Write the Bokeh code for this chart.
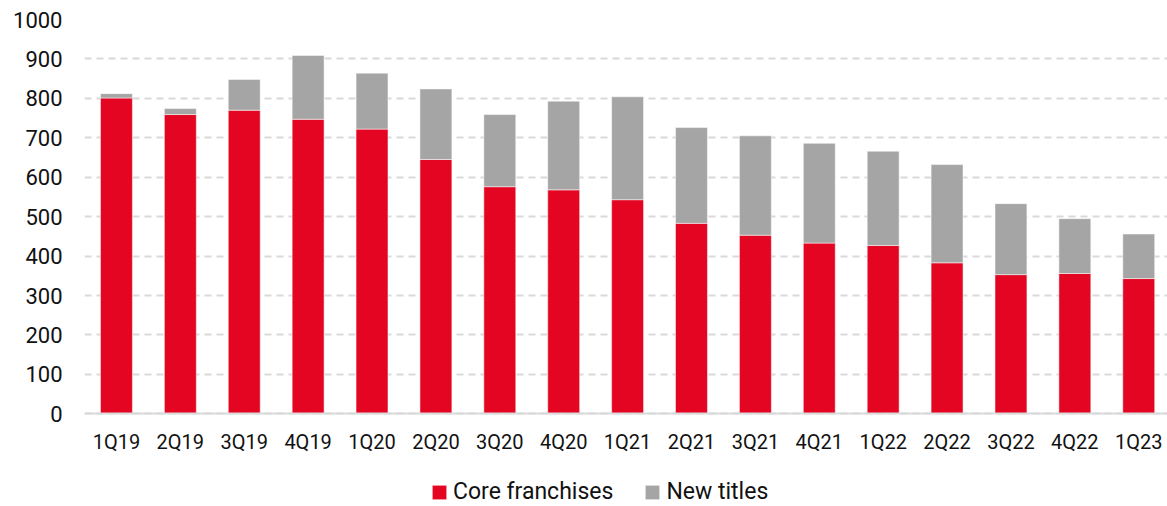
from bokeh.plotting import figure
from bokeh.models import ColumnDataSource, Range1d, FixedTicker, Legend, LegendItem
from bokeh.embed import file_html
from bokeh.resources import INLINE

quarters = ["1Q19", "2Q19", "3Q19", "4Q19", "1Q20", "2Q20", "3Q20", "4Q20", "1Q21",
            "2Q21", "3Q21", "4Q21", "1Q22", "2Q22", "3Q22", "4Q22", "1Q23"]
core = [801, 759, 770, 747, 722, 645, 576, 568, 543, 483, 453, 433, 427, 383, 353, 356, 343]
new_titles = [11, 15, 78, 162, 142, 179, 183, 225, 261, 243, 252, 253, 239, 249, 180, 139, 113]
y_ticks = [0, 100, 200, 300, 400, 500, 600, 700, 800, 900, 1000]

RED = "#E30521"
GREY = "#A5A5A5"
FONT = "Roboto"

xs = list(range(len(quarters)))
src = ColumnDataSource(dict(x=xs, core=core, new=new_titles))

p = figure(width=1167, height=506, output_backend="svg", toolbar_location=None,
           x_range=Range1d(-0.5, 16.45), y_range=Range1d(-235, 1000),
           min_border_left=84, min_border_top=19, min_border_right=0, min_border_bottom=0)
p.outline_line_color = None

r = p.vbar_stack(["core", "new"], x="x", width=0.5, source=src, color=[RED, GREY],
                 line_color="white", line_alpha=0.5, line_width=1)

p.xaxis.ticker = FixedTicker(ticks=xs)
p.xaxis.major_label_overrides = {i: q for i, q in enumerate(quarters)}
p.xaxis.fixed_location = 0
p.yaxis.ticker = FixedTicker(ticks=y_ticks)

for ax in (p.xaxis[0], p.yaxis[0]):
    ax.major_tick_line_color = None
    ax.minor_tick_line_color = None
    ax.major_label_text_font = FONT
    ax.major_label_text_color = "#111111"
p.xaxis.major_label_text_font_size = "20px"
p.yaxis.major_label_text_font_size = "22px"
p.yaxis.axis_line_color = None
p.yaxis.major_label_standoff = 16
p.xaxis.axis_line_color = "#d9d9d9"
p.xaxis.axis_line_width = 2
p.xaxis.major_label_standoff = 10

p.xgrid.grid_line_color = None
p.ygrid.grid_line_color = "#d9d9d9"
p.ygrid.grid_line_width = 2
p.ygrid.grid_line_dash = "7 5"

legend = Legend(items=[LegendItem(label="Core franchises", renderers=[r[0]]),
                       LegendItem(label="New titles", renderers=[r[1]])],
                orientation="horizontal", location=(346, 1),
                label_text_font=FONT, label_text_font_size="23px", label_text_color="#111111",
                glyph_width=18, glyph_height=18, label_standoff=5, spacing=30,
                border_line_color=None, background_fill_alpha=0, margin=0, padding=0)
p.add_layout(legend, "center")

open("out.html", "w").write(file_html(p, INLINE))
